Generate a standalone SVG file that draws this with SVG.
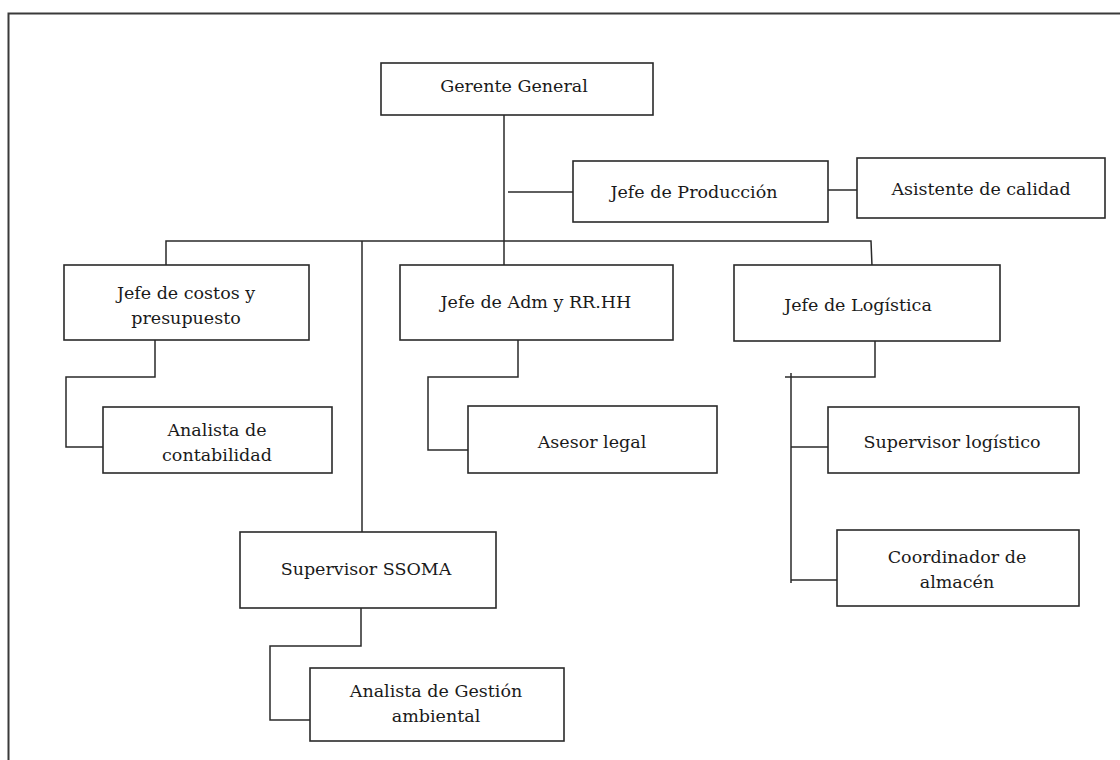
<svg xmlns="http://www.w3.org/2000/svg" width="1120" height="760" viewBox="0 0 1120 760">
  <style>
    .box { fill: #ffffff; stroke: #2a2a2a; stroke-width: 1.6; }
    .link { fill: none; stroke: #2a2a2a; stroke-width: 1.5; }
    .frame { fill: none; stroke: #3a3a3a; stroke-width: 2; }
    text { font-family: "DejaVu Serif", "Liberation Serif", serif; font-size: 17.5px; fill: #1a1a1a; text-anchor: middle; dominant-baseline: central; }
  </style>
  <rect width="1120" height="760" fill="#ffffff"/>
  <!-- outer frame (open to the right and bottom) -->
  <path class="frame" d="M8.5,760 V13.5 H1120"/>

  <g id="connectors">
    <path class="link" d="M504,115 V265"/>
    <path class="link" d="M508,192 H573"/>
    <path class="link" d="M828,190 H857"/>
    <path class="link" d="M166,265 V241 H871 L872,266"/>
    <path class="link" d="M362,241 V532"/>
    <path class="link" d="M155,340 V377 H66 V447 H103"/>
    <path class="link" d="M518,340 V377 H428 V450 H468"/>
    <path class="link" d="M875,341 V377 H785"/>
    <path class="link" d="M791,373 V583"/>
    <path class="link" d="M791,447 H828"/>
    <path class="link" d="M791,580 H837"/>
    <path class="link" d="M361,608 V646 H270 V720 H310"/>
  </g>

  <g id="gerente-general">
    <rect class="box" x="381" y="63" width="272" height="52"/>
    <text x="514" y="86">Gerente General</text>
  </g>
  <g id="jefe-produccion">
    <rect class="box" x="573" y="161" width="255" height="61"/>
    <text x="694" y="192">Jefe de Producción</text>
  </g>
  <g id="asistente-calidad">
    <rect class="box" x="857" y="158" width="248" height="60"/>
    <text x="981" y="189">Asistente de calidad</text>
  </g>
  <g id="jefe-costos">
    <rect class="box" x="64" y="265" width="245" height="75"/>
    <text x="186" y="293">Jefe de costos y</text>
    <text x="186" y="318">presupuesto</text>
  </g>
  <g id="jefe-adm">
    <rect class="box" x="400" y="265" width="273" height="75"/>
    <text x="536" y="302">Jefe de Adm y RR.HH</text>
  </g>
  <g id="jefe-logistica">
    <rect class="box" x="734" y="265" width="266" height="76"/>
    <text x="858" y="305">Jefe de Logística</text>
  </g>
  <g id="analista-contabilidad">
    <rect class="box" x="103" y="407" width="229" height="66"/>
    <text x="217" y="430">Analista de</text>
    <text x="217" y="455">contabilidad</text>
  </g>
  <g id="asesor-legal">
    <rect class="box" x="468" y="406" width="249" height="67"/>
    <text x="592" y="442">Asesor legal</text>
  </g>
  <g id="supervisor-logistico">
    <rect class="box" x="828" y="407" width="251" height="66"/>
    <text x="952" y="442">Supervisor logístico</text>
  </g>
  <g id="coordinador-almacen">
    <rect class="box" x="837" y="530" width="242" height="76"/>
    <text x="957" y="557">Coordinador de</text>
    <text x="957" y="582">almacén</text>
  </g>
  <g id="supervisor-ssoma">
    <rect class="box" x="240" y="532" width="256" height="76"/>
    <text x="366" y="569">Supervisor SSOMA</text>
  </g>
  <g id="analista-gestion-ambiental">
    <rect class="box" x="310" y="668" width="254" height="73"/>
    <text x="436" y="691">Analista de Gestión</text>
    <text x="436" y="716">ambiental</text>
  </g>
</svg>
